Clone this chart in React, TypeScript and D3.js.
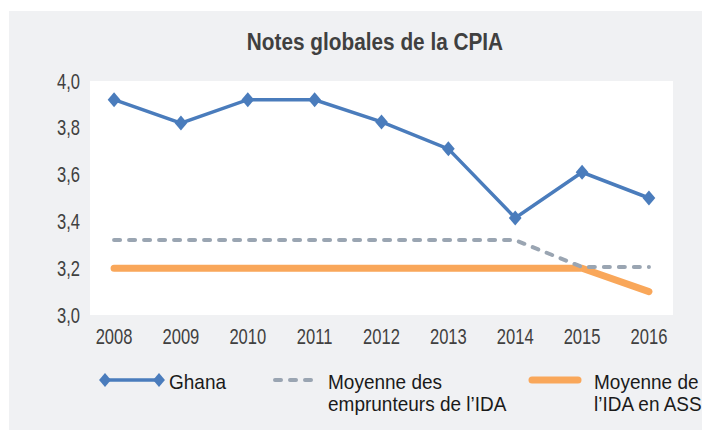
import React, { useEffect, useRef } from "react";
import * as d3 from "d3";

const years = [2008, 2009, 2010, 2011, 2012, 2013, 2014, 2015, 2016];
const ghana = [3.92, 3.82, 3.92, 3.92, 3.825, 3.71, 3.415, 3.61, 3.5];
const idaBorrowers = [3.32, 3.32, 3.32, 3.32, 3.32, 3.32, 3.32, 3.205, 3.205];
const idaSSA = [3.2, 3.2, 3.2, 3.2, 3.2, 3.2, 3.2, 3.2, 3.1];
const yTicks = [3.0, 3.2, 3.4, 3.6, 3.8, 4.0];
const title = "Notes globales de la CPIA";
const legendGhana = "Ghana";
const legendBorrowers = ["Moyenne des", "emprunteurs de l\u2019IDA"];
const legendSSA = ["Moyenne de", "l\u2019IDA en ASS"];

const W = 702;
const H = 430;
const FONT = "'Liberation Sans', Arial, sans-serif";
const BLUE = "#4a7cbc";
const GRAY = "#9aa5b2";
const ORANGE = "#f9a75a";

export default function App() {
  const ref = useRef<SVGSVGElement>(null);
  useEffect(() => {
    const svg = d3.select(ref.current);
    svg.selectAll("*").remove();

    const txt = (x: number, y: number, s: string, opts: { size?: number; sx?: number; anchor?: string; bold?: boolean; fill?: string } = {}) =>
      svg.append("text")
        .attr("transform", `translate(${x},${y}) scale(${opts.sx ?? 0.77},1)`)
        .attr("text-anchor", opts.anchor ?? "start")
        .attr("font-family", FONT)
        .attr("font-size", opts.size ?? 21.5)
        .attr("font-weight", opts.bold ? "bold" : "normal")
        .attr("fill", opts.fill ?? "#1a1a1a")
        .text(s);

    svg.append("rect").attr("x", 9).attr("y", 11).attr("width", W - 9).attr("height", H - 11).attr("fill", "#f0f1f3");

    const plot = { left: 90, right: 673, top: 81, bottom: 315 };
    svg.append("rect").attr("x", plot.left).attr("y", plot.top)
      .attr("width", plot.right - plot.left).attr("height", plot.bottom - plot.top).attr("fill", "#ffffff");

    const x = d3.scalePoint<number>().domain(years).range([plot.left, plot.right]).padding(0.36);
    const y = d3.scaleLinear().domain([3.0, 4.0]).range([plot.bottom, plot.top]);

    txt(375, 50, title, { size: 24, sx: 0.866, anchor: "middle", bold: true, fill: "#404040" });

    yTicks.forEach((d) => txt(80, y(d) + 7.5, d3.format(".1f")(d).replace(".", ","), { anchor: "end", fill: "#404040" }));
    years.forEach((d) => txt(x(d)!, 344, String(d), { anchor: "middle", fill: "#404040" }));

    const line = d3.line<number>().x((_, i) => x(years[i])!).y((d) => y(d));

    svg.append("path").attr("d", line(idaSSA)!)
      .attr("fill", "none").attr("stroke", ORANGE).attr("stroke-width", 7)
      .attr("stroke-linecap", "round").attr("stroke-linejoin", "round");

    svg.append("path").attr("d", line(idaBorrowers)!)
      .attr("fill", "none").attr("stroke", GRAY).attr("stroke-width", 4)
      .attr("stroke-linecap", "round").attr("stroke-linejoin", "round").attr("stroke-dasharray", "6,9");

    svg.append("path").attr("d", line(ghana)!)
      .attr("fill", "none").attr("stroke", BLUE).attr("stroke-width", 3.5);

    const diamond = (cx: number, cy: number, r: number) =>
      `M${cx},${cy - r}L${cx + r * 0.85},${cy}L${cx},${cy + r}L${cx - r * 0.85},${cy}Z`;

    svg.append("g").selectAll("path").data(ghana).enter().append("path")
      .attr("d", (d, i) => diamond(x(years[i])!, y(d), 7.5)).attr("fill", BLUE);

    // Legend
    const ly = 380;
    const lg = { size: 20, sx: 0.95 };
    svg.append("line").attr("x1", 105).attr("x2", 159).attr("y1", ly).attr("y2", ly)
      .attr("stroke", BLUE).attr("stroke-width", 3.5);
    svg.append("path").attr("d", diamond(105, ly, 7)).attr("fill", BLUE);
    svg.append("path").attr("d", diamond(159, ly, 7)).attr("fill", BLUE);
    txt(169, ly + 9, legendGhana, lg);

    svg.append("line").attr("x1", 275).attr("x2", 312).attr("y1", ly).attr("y2", ly)
      .attr("stroke", GRAY).attr("stroke-width", 4).attr("stroke-linecap", "round")
      .attr("stroke-dasharray", "6,9");
    legendBorrowers.forEach((t, i) => txt(328, ly + 9 + i * 22, t, lg));

    svg.append("line").attr("x1", 532).attr("x2", 578).attr("y1", ly).attr("y2", ly)
      .attr("stroke", ORANGE).attr("stroke-width", 7).attr("stroke-linecap", "round");
    legendSSA.forEach((t, i) => txt(594, ly + 9 + i * 22, t, lg));
  }, []);

  return (
    <svg ref={ref} width={W} height={H}
      style={{ position: "absolute", left: 0, top: 0, display: "block" }} />
  );
}
